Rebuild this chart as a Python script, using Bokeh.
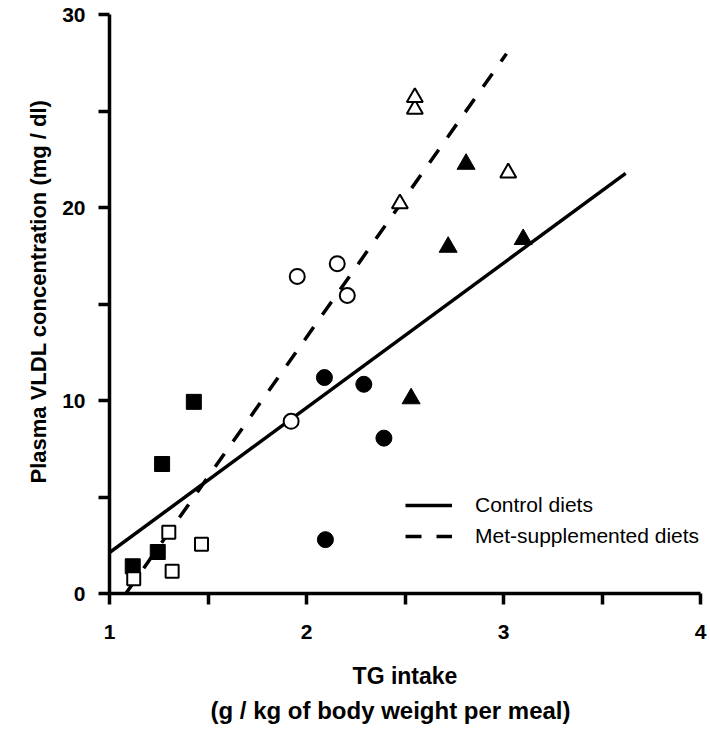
from bokeh.plotting import figure
from bokeh.models import FixedTicker, Legend, LegendItem, Title, Range1d
from bokeh.embed import file_html
from bokeh.resources import INLINE

# ---- data ----
ctrl_sq_x = [1.118, 1.245, 1.267, 1.428]
ctrl_sq_y = [1.41, 2.15, 6.71, 9.93]
met_sq_x = [1.123, 1.301, 1.318, 1.467]
met_sq_y = [0.77, 3.18, 1.15, 2.55]
ctrl_circ_x = [2.091, 2.291, 2.393, 2.096]
ctrl_circ_y = [11.19, 10.84, 8.05, 2.79]
met_circ_x = [1.953, 2.156, 2.207, 1.922]
met_circ_y = [16.43, 17.09, 15.44, 8.92]
ctrl_tri_x = [2.531, 2.719, 2.810, 3.100]
ctrl_tri_y = [10.1, 17.95, 22.25, 18.35]
met_tri_x = [2.474, 2.550, 2.550, 3.024]
met_tri_y = [20.2, 25.1, 25.7, 21.8]

ctrl_line_x = [1.0, 3.62]
ctrl_line_y = [2.12, 21.77]
met_line_x = [1.083, 3.015]
met_line_y = [0.0, 27.97]

x_ticks = [1, 2, 3, 4]
x_minor = [1.5, 2.5, 3.5]
y_ticks = [0, 10, 20, 30]
y_minor = [5, 15, 25]

legend_labels = ["Control diets", "Met-supplemented diets"]

FONT = "Liberation Sans"

p = figure(width=710, height=729, x_range=Range1d(1, 4), y_range=Range1d(0, 30),
           output_backend="svg", toolbar_location=None,
           min_border_left=109, min_border_right=10, min_border_top=14,
           min_border_bottom=136)
p.outline_line_color = None
p.xgrid.visible = False
p.ygrid.visible = False
p.background_fill_color = "white"
p.border_fill_color = "white"

for ax in (p.xaxis[0], p.yaxis[0]):
    ax.axis_line_width = 3.5
    ax.axis_line_color = "black"
    ax.major_tick_line_width = 3.5
    ax.minor_tick_line_width = 3.5
    ax.major_tick_in = 0
    ax.major_tick_out = 11
    ax.minor_tick_in = 0
    ax.minor_tick_out = 11
    ax.major_label_text_font = FONT
    ax.major_label_text_font_style = "bold"
    ax.major_label_text_font_size = "21px"
    ax.major_label_text_color = "black"
    ax.axis_label_text_font = FONT
    ax.axis_label_text_font_style = "bold"
    ax.axis_label_text_font_size = "23px"
    ax.axis_label_text_color = "black"

p.xaxis.ticker = FixedTicker(ticks=x_ticks, minor_ticks=x_minor)
p.yaxis.ticker = FixedTicker(ticks=y_ticks, minor_ticks=y_minor)
p.xaxis.major_label_standoff = 20
p.yaxis.major_label_standoff = 13
p.xaxis.axis_label = "TG intake"
p.xaxis.axis_label_standoff = 21

ytitle = Title(text="Plasma VLDL concentration (mg / dl)", align="left", offset=110,
               text_font=FONT, text_font_style="bold", text_font_size="22px",
               text_color="black", standoff=18)
p.add_layout(ytitle, "left")

sub = Title(text="(g / kg of body weight per meal)", align="left", offset=101,
            text_font=FONT, text_font_style="bold", text_font_size="24px",
            text_color="black", standoff=6)
p.add_layout(sub, "below")

# regression lines
r1 = p.line(ctrl_line_x, ctrl_line_y, line_width=3.5, line_color="black")
r2 = p.line(met_line_x, met_line_y, line_width=3.5, line_color="black", line_dash="16 15")

# markers
p.scatter(ctrl_sq_x, ctrl_sq_y, marker="square", size=15, fill_color="black", line_color="black")
p.scatter(met_sq_x, met_sq_y, marker="square", size=13, fill_color="white", line_color="black", line_width=2)
p.scatter(ctrl_circ_x, ctrl_circ_y, marker="circle", size=16, fill_color="black", line_color="black")
p.scatter(met_circ_x, met_circ_y, marker="circle", size=15, fill_color="white", line_color="black", line_width=2)
p.scatter(ctrl_tri_x, ctrl_tri_y, marker="triangle", size=18, fill_color="black", line_color="black")
p.scatter(met_tri_x, met_tri_y, marker="triangle", size=16, fill_color="white", line_color="black", line_width=2)

legend = Legend(items=[LegendItem(label=legend_labels[0], renderers=[r1]),
                       LegendItem(label=legend_labels[1], renderers=[r2])],
                location=(296, 45), glyph_width=47, glyph_height=20, label_height=20,
                label_standoff=23, spacing=7, padding=0, margin=0,
                border_line_alpha=0, background_fill_alpha=0,
                label_text_font=FONT, label_text_font_size="21px", label_text_color="black")
p.add_layout(legend)

open("out.html", "w").write(file_html(p, INLINE))
